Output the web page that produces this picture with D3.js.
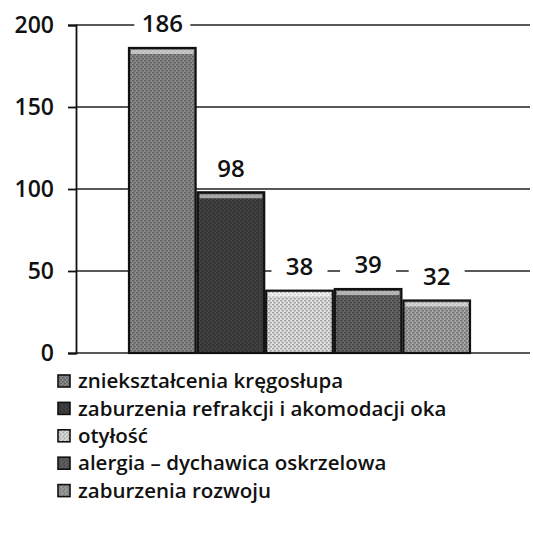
<!DOCTYPE html>
<html><head><meta charset="utf-8">
<script src="https://cdn.jsdelivr.net/npm/d3@7"></script>
<style>html,body{margin:0;padding:0;background:#fff;}svg{display:block;}</style>
</head><body>
<script>
const categories = ["zniekształcenia kręgosłupa","zaburzenia refrakcji i akomodacji oka","otyłość","alergia – dychawica oskrzelowa","zaburzenia rozwoju"];
const values = [186, 98, 38, 39, 32];
const yTicks = [0, 50, 100, 150, 200];
const fills = ["#7c7c7c", "#3c3c3c", "#cfcfcf", "#5a5a5a", "#939393"];

const W = 533, H = 539;
const svg = d3.select("body").append("svg").attr("width", W).attr("height", H);
const defs = svg.append("defs");
const font = "'Open Sans', sans-serif";

fills.forEach((c, i) => {
  const p = defs.append("pattern").attr("id", "pat" + i).attr("patternUnits", "userSpaceOnUse")
    .attr("width", 4).attr("height", 4);
  p.append("rect").attr("width", 4).attr("height", 4).attr("fill", c);
  p.append("path").attr("d", "M0,1 L2,0 M2,3 L4,2").attr("stroke", d3.color(c).darker(0.9)).attr("stroke-width", 1);
  p.append("path").attr("d", "M0,3 L1,3 M3,1 L4,1").attr("stroke", d3.color(c).brighter(0.8)).attr("stroke-width", 1);
});

const x0 = 76, x1 = 530;
const y = d3.scaleLinear().domain([0, 200]).range([353, 25]);
const x = d3.scaleBand().domain(categories).range([128, 471]).padding(0);

// gridlines
svg.append("g").selectAll("line").data(yTicks).join("line")
  .attr("x1", x0).attr("x2", x1).attr("y1", d => y(d)).attr("y2", d => y(d))
  .attr("stroke", "#222").attr("stroke-width", 1.3);

// axis
const axis = d3.axisLeft(y).tickValues(yTicks).tickSize(8).tickPadding(14);
const ag = svg.append("g").attr("transform", `translate(${x0},0)`).call(axis);
ag.select(".domain").attr("stroke", "#111").attr("stroke-width", 1.8);
ag.selectAll(".tick line").attr("stroke", "#111").attr("stroke-width", 1.8);
ag.selectAll(".tick text").attr("font-family", font).attr("font-size", 23).attr("font-weight", 600).attr("fill", "#111");

// bars
const bars = svg.append("g").selectAll("g").data(values).join("g");
bars.append("rect")
  .attr("x", (d, i) => x(categories[i]) + 1)
  .attr("y", d => y(d))
  .attr("width", x.bandwidth() - 2)
  .attr("height", d => y(0) - y(d))
  .attr("fill", (d, i) => `url(#pat${i})`)
  .attr("stroke", "#111").attr("stroke-width", 2.2);
bars.append("rect")
  .attr("x", (d, i) => x(categories[i]) + 3)
  .attr("y", d => y(d) + 2)
  .attr("width", x.bandwidth() - 6)
  .attr("height", 4)
  .attr("fill", "#fff").attr("opacity", 0.55);

// labels with white background
const lab = svg.append("g").selectAll("g").data(values).join("g")
  .attr("transform", (d, i) => `translate(${x(categories[i]) + x.bandwidth() / 2},${y(d) - 24})`);
lab.append("rect").attr("x", -28).attr("y", -14).attr("width", 56).attr("height", 28).attr("fill", "#fff");
lab.append("text").attr("text-anchor", "middle").attr("dy", "0.35em")
  .attr("font-family", font).attr("font-size", 24).attr("font-weight", 600).attr("fill", "#111")
  .text(d => d);

// legend
const lg = svg.append("g").selectAll("g").data(categories).join("g")
  .attr("transform", (d, i) => `translate(58,${381 + i * 27.4})`);
lg.append("rect").attr("x", 0).attr("y", -6).attr("width", 12).attr("height", 12)
  .attr("fill", (d, i) => `url(#pat${i})`).attr("stroke", "#111").attr("stroke-width", 1.6);
lg.append("text").attr("x", 20).attr("dy", "0.35em")
  .attr("font-family", font).attr("font-size", 20.5).attr("font-weight", 600).attr("fill", "#111")
  .text(d => d);
</script>
</body></html>
